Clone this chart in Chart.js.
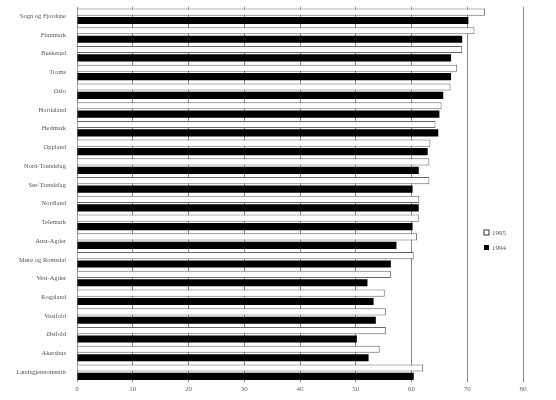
<!DOCTYPE html><html><head><meta charset="utf-8">
<script src="https://cdn.jsdelivr.net/npm/chart.js@4/dist/chart.umd.min.js"></script>
<style>html,body{margin:0;background:#fff}#w{width:556px;height:400px}</style></head><body><div id="w"><canvas id="c"></canvas></div>
<script>
const categories=["Sogn og Fjordane","Finnmark","Buskerud","Troms","Oslo","Hordaland","Hedmark","Oppland","Nord-Trøndelag","Sør-Trøndelag","Nordland","Telemark","Aust-Agder","Møre og Romsdal","Vest-Agder","Rogaland","Vestfold","Østfold","Akershus","Landsgjennomsnitt"];
const values1995=[73.2,71.3,69.1,68.2,67,65.4,64.3,63.4,63.2,63.2,61.4,61.3,61,60.4,56.3,55.2,55.4,55.4,54.3,62.1];
const values1994=[70.2,69.1,67.1,67.1,65.7,65,64.8,62.9,61.3,60.2,61.3,60.2,57.3,56.3,52.1,53.2,53.6,50.2,52.3,60.4];
const tickLabels=[0,10,20,30,40,50,60,70,80];
const legendPlugin={id:'lg',afterDraw(ch){const x=ch.ctx;x.save();x.font='7px "Liberation Serif"';x.fillStyle='#555';
x.strokeStyle='#333';x.strokeRect(484,230,5,5);x.fillText('1995',492,235);
x.fillStyle='#000';x.fillRect(484,245,5,5);x.fillStyle='#555';x.fillText('1994',492,250);x.restore();}};
new Chart(document.getElementById('c'),{type:'bar',
data:{labels:categories,datasets:[
{label:'1995',data:values1995,backgroundColor:'#fff',borderColor:'#666',borderWidth:1,categoryPercentage:0.9,barPercentage:0.85},
{label:'1994',data:values1994,backgroundColor:'#000',borderColor:'#000',borderWidth:0,categoryPercentage:0.9,barPercentage:0.85}]},
options:{indexAxis:'y',responsive:true,maintainAspectRatio:false,animation:false,
layout:{padding:{left:0,right:33,top:5,bottom:4}},
plugins:{legend:{display:false},tooltip:{enabled:false}},
scales:{x:{min:0,max:80,ticks:{stepSize:10,color:'#666',font:{family:'Liberation Serif',size:7},callback:(v)=>tickLabels.includes(v)?String(v):''},
grid:{color:'#888',borderDash:[1,4],drawTicks:false},border:{display:false}},
y:{afterFit(s){s.width=77;},ticks:{color:'#555',font:{family:'Liberation Serif',size:6.5}},grid:{display:false},border:{display:false}}}},
plugins:[legendPlugin]});
</script></body></html>
